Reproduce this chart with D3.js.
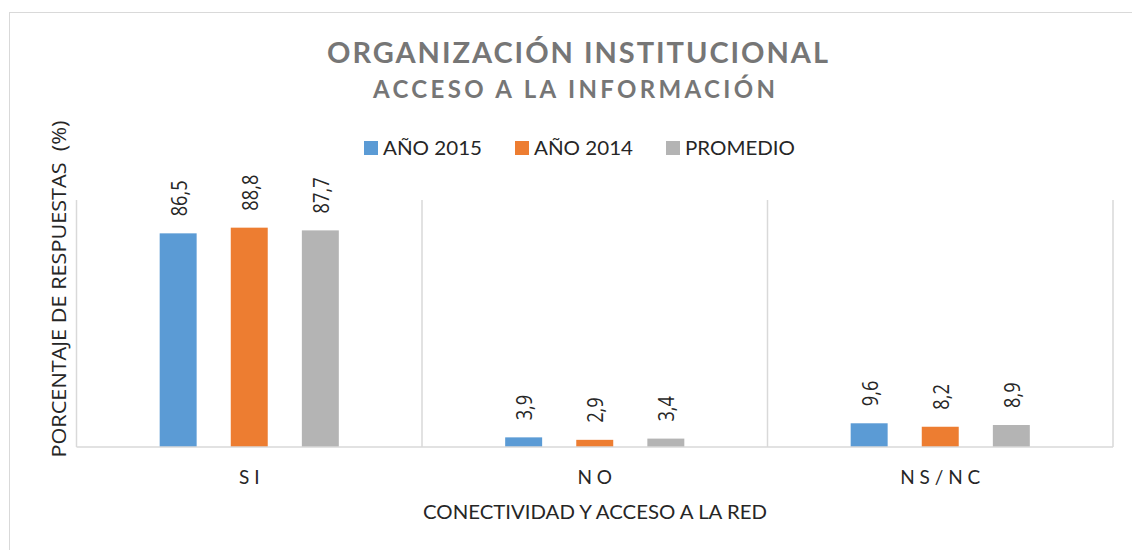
<!DOCTYPE html>
<html>
<head>
<meta charset="utf-8">
<script src="https://cdn.jsdelivr.net/npm/d3@7"></script>
<style>
  body { margin: 0; background: #fff; }
  text { font-family: "Open Sans", sans-serif; }
</style>
</head>
<body>
<div id="chart"></div>
<script>
// Data
var categories = ["SI", "NO", "NS/NC"];
var categoryLabels = ["S I", "N O", "N S / N C"];
var seriesNames = ["AÑO 2015", "AÑO 2014", "PROMEDIO"];
var year2015 = [86.5, 3.9, 9.6];
var year2014 = [88.8, 2.9, 8.2];
var promedio = [87.7, 3.4, 8.9];
var seriesValues = [year2015, year2014, promedio];
var colors = ["#5b9bd5", "#ed7d31", "#b4b4b4"];

var width = 1132, height = 550;
var plotLeft = 76.5, plotRight = 1113, plotTop = 200, plotBottom = 447;

var svg = d3.select("#chart").append("svg")
    .attr("width", width)
    .attr("height", height);

// chart border
svg.append("rect")
    .attr("x", 9.5).attr("y", 12.5)
    .attr("width", 1140).attr("height", 560)
    .attr("fill", "#fff")
    .attr("stroke", "#d9d9d9");

// Scales
var x0 = d3.scaleBand().domain(categories).range([plotLeft, plotRight]);
var x1 = d3.scaleBand().domain(seriesNames).range([0, x0.bandwidth()])
    .paddingInner(0.48).paddingOuter(1.17);
var y = d3.scaleLinear().domain([0, 100]).range([plotBottom, plotTop]);

// vertical separators between categories
var edges = categories.map(c => x0(c)).concat([plotRight]);
svg.selectAll(".sep")
    .data(edges)
    .enter().append("line")
    .attr("x1", d => d).attr("x2", d => d)
    .attr("y1", plotTop).attr("y2", plotBottom)
    .attr("stroke", "#d9d9d9").attr("stroke-width", 1.5);

// Bars
var groups = svg.selectAll(".cat")
    .data(categories)
    .enter().append("g")
    .attr("transform", c => `translate(${x0(c)},0)`);

var cells = groups.selectAll(".bar")
    .data((c, i) => seriesNames.map((s, j) => ({ s: s, v: seriesValues[j][i], j: j })))
    .enter();

cells.append("rect")
    .attr("x", d => x1(d.s))
    .attr("y", d => y(d.v))
    .attr("width", x1.bandwidth())
    .attr("height", d => plotBottom - y(d.v))
    .attr("fill", d => colors[d.j]);

// value labels, rotated (squeezed along the text like the original)
cells.append("text")
    .attr("transform", d => `translate(${x1(d.s) + x1.bandwidth() / 2 + 8.5},${y(d.v) - 17}) rotate(-90) scale(0.87,1)`)
    .style("font-size", "21px")
    .style("fill", "#262626")
    .text(d => String(d.v).replace(".", ","));

// baseline
svg.append("line")
    .attr("x1", plotLeft).attr("x2", plotRight)
    .attr("y1", plotBottom).attr("y2", plotBottom)
    .attr("stroke", "#d9d9d9").attr("stroke-width", 1.5);

// category labels
svg.selectAll(".catlabel")
    .data(categories)
    .enter().append("text")
    .attr("x", c => x0(c) + x0.bandwidth() / 2)
    .attr("y", 484)
    .attr("text-anchor", "middle")
    .style("font-family", "Lato, sans-serif")
    .style("font-size", "19px")
    .style("fill", "#262626")
    .attr("xml:space", "preserve")
    .text((c, i) => categoryLabels[i]);

// x axis title
svg.append("text")
    .attr("x", 423).attr("y", 519)
    .attr("textLength", 344).attr("lengthAdjust", "spacingAndGlyphs")
    .style("font-family", "Lato, sans-serif")
    .style("font-size", "19px")
    .style("fill", "#262626")
    .text("CONECTIVIDAD Y ACCESO A LA RED");

// y axis title
svg.append("text")
    .attr("transform", "translate(66,289) rotate(-90)")
    .attr("text-anchor", "middle")
    .attr("xml:space", "preserve")
    .attr("textLength", 337).attr("lengthAdjust", "spacingAndGlyphs")
    .style("font-size", "20px")
    .style("fill", "#262626")
    .text("PORCENTAJE DE RESPUESTAS  (%)");

// Titles
svg.append("text")
    .attr("x", 327).attr("y", 63)
    .attr("textLength", 501).attr("lengthAdjust", "spacing")
    .style("font-family", "Lato, sans-serif")
    .style("font-weight", "bold")
    .style("font-size", "29px")
    .style("fill", "#767676")
    .text("ORGANIZACIÓN INSTITUCIONAL");

svg.append("text")
    .attr("x", 373).attr("y", 98)
    .attr("textLength", 402).attr("lengthAdjust", "spacing")
    .style("font-family", "Lato, sans-serif")
    .style("font-weight", "bold")
    .style("font-size", "24px")
    .style("fill", "#767676")
    .text("ACCESO A LA INFORMACIÓN");

// Legend
var legendX = [364, 515, 666];
var legendW = [99, 99, 110];
var legend = svg.selectAll(".legend")
    .data(seriesNames)
    .enter().append("g")
    .attr("transform", (d, i) => `translate(${legendX[i]},141)`);

legend.append("rect")
    .attr("width", 14).attr("height", 14)
    .attr("fill", (d, i) => colors[i]);

legend.append("text")
    .attr("x", 19).attr("y", 14)
    .attr("textLength", (d, i) => legendW[i]).attr("lengthAdjust", "spacingAndGlyphs")
    .style("font-family", "Lato, sans-serif")
    .style("font-size", "20px")
    .style("fill", "#262626")
    .text(d => d);
</script>
</body>
</html>
